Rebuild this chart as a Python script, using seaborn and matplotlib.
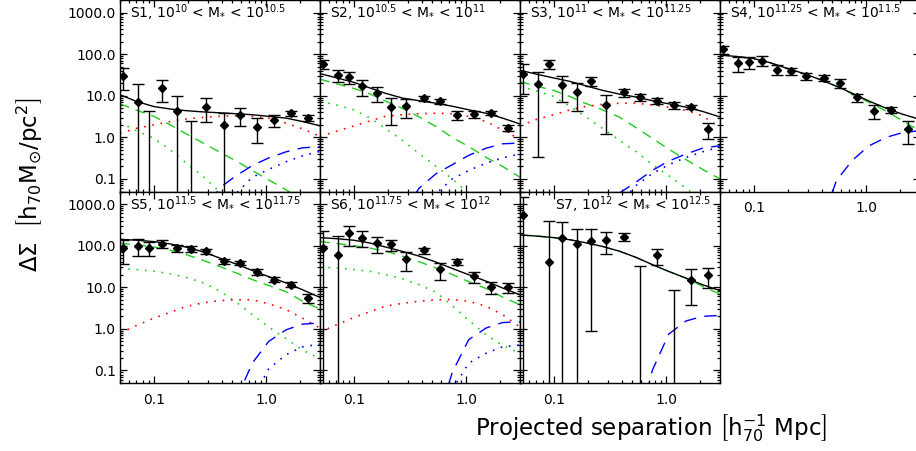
import numpy as np
import matplotlib
matplotlib.use("Agg")
import matplotlib.pyplot as plt
from matplotlib.ticker import FixedLocator, FixedFormatter, NullFormatter, LogLocator
import seaborn as sns

sns.set_style("ticks", {"xtick.direction": "in", "ytick.direction": "in"})
plt.rcParams["font.family"] = ["DejaVu Sans"]
plt.rcParams["mathtext.fontset"] = "dejavusans"
plt.rcParams["text.color"] = "black"
plt.rcParams["axes.labelcolor"] = "black"

# projected radius of each measured bin [h70^-1 Mpc]
r_bins = [0.053, 0.072, 0.091, 0.118, 0.16, 0.215, 0.29, 0.42, 0.58, 0.82, 1.17, 1.65, 2.35]
# radii at which the halo-model terms are tabulated
model_r = [0.05, 0.07, 0.1, 0.14, 0.19, 0.27, 0.38, 0.54, 0.75, 1.05, 1.5, 2.1, 3.0]

x_ticks = [0.1, 1.0]
x_tick_labels = ["0.1", "1.0"]
y_ticks = [0.1, 1.0, 10.0, 100.0, 1000.0]
y_tick_labels = ["0.1", "1.0", "10.0", "100.0", "1000.0"]

titles = [
    r"S1, 10$^{10}$ < M$_{*}$ < 10$^{10.5}$",
    r"S2, 10$^{10.5}$ < M$_{*}$ < 10$^{11}$",
    r"S3, 10$^{11}$ < M$_{*}$ < 10$^{11.25}$",
    r"S4, 10$^{11.25}$ < M$_{*}$ < 10$^{11.5}$",
    r"S5, 10$^{11.5}$ < M$_{*}$ < 10$^{11.75}$",
    r"S6, 10$^{11.75}$ < M$_{*}$ < 10$^{12}$",
    r"S7, 10$^{12}$ < M$_{*}$ < 10$^{12.5}$",
]

# measured Delta Sigma [h70 Msun / pc^2] and 1-sigma errors
s1_dsigma = [30, 6.9, -0.4, 15.3, 4.3, -0.5, 5.5, 2.0, 3.5, 1.8, 2.6, 3.8, 2.9]
s1_err = [16.6, 12.6, 4.6, 8.3, 5.7, 3.0, 3.2, 1.95, 1.65, 1.05, 0.8, 0.5, 0.48]
s2_dsigma = [58, 31.6, 27.8, 16.8, 11.6, 5.5, 5.7, 8.8, 7.3, 3.4, 3.7, 3.8, 1.7]
s2_err = [13, 10, 8.8, 6.7, 4.5, 3.5, 2.7, 1.3, 1.0, 0.85, 0.7, 0.4, 0.3]
s3_dsigma = [34, 19.1, 59, 18.4, 12.1, 23, 5.9, 12.1, 9.3, 7.6, 5.9, 5.3, 1.56]
s3_err = [23, 18.76, 15, 11.5, 7.7, 6, 4.7, 2.6, 1.8, 1.3, 1.0, 0.55, 0.65]
s4_dsigma = [130, 61.6, 65, 70, 42.6, 38.8, 29.4, 26.7, 20.2, 9.1, 4.4, 4.6, 1.56]
s4_err = [27, 25, 22, 19, 11, 7.8, 5.9, 4.2, 4.5, 2.0, 1.6, 0.85, 0.85]
s5_dsigma = [88, 100, 90, 112, 86, 84, 74, 42.6, 38.8, 23.5, 15.3, 11.6, 5.5]
s5_err = [52, 43, 34, 24, 17, 12, 11, 6, 5, 3.3, 2.2, 1.6, 1.3]
s6_dsigma = [86, 59, 199, 156, 114, 108, 47, 77, 27, 41, 18.4, 10, 10]
s6_err = [140, 112, 100, 63, 47, 32, 23, 13, 12, 5.8, 5.4, 3.3, 2.8]
s7_dsigma = [552, np.nan, 41, 150, 112, 126, 140, 163, -10, 58, -5, 15.3, 19.5]
s7_err = [950, np.nan, 340, 230, 136, 125.1, 78, 35, 43, 23.7, 13.6, 11.6, 10]

# halo-model terms on model_r: total, central 1-halo, satellite 1-halo,
# satellite host term, central 2-halo, satellite 2-halo
s1_total = [10.6, 7.3, 5.5, 4.8, 4.4, 4.1, 3.9, 3.7, 3.5, 3.2, 2.9, 2.4, 1.9]
s1_cen = [6.4, 4.5, 3.2, 2.0, 1.25, 0.75, 0.45, 0.27, 0.16, 0.095, 0.055, 0.03, 0.018]
s1_sat = [2.26, 1.45, 0.95, 0.5, 0.25, 0.12, 0.05, 0.02, np.nan, np.nan, np.nan, np.nan, np.nan]
s1_host = [1.25, 1.65, 2.0, 2.4, 2.75, 3.0, 3.2, 3.3, 3.2, 2.9, 2.2, 1.6, 1.07]
s1_cen2h = [np.nan, np.nan, np.nan, np.nan, np.nan, 0.01, 0.06, 0.12, 0.21, 0.32, 0.45, 0.56, 0.6]
s1_sat2h = [np.nan, np.nan, np.nan, np.nan, np.nan, np.nan, 0.01, 0.045, 0.11, 0.17, 0.26, 0.36, 0.46]

s2_total = [34, 27, 21, 15.3, 11.5, 8.8, 7.6, 6.6, 5.6, 4.6, 3.8, 2.9, 2.1]
s2_cen = [25, 19.5, 15, 11, 7.5, 5.0, 3.1, 1.8, 1.0, 0.6, 0.33, 0.2, 0.11]
s2_sat = [7.3, 6.0, 4.6, 2.9, 1.65, 0.85, 0.41, 0.2, 0.1, 0.045, 0.022, np.nan, np.nan]
s2_host = [1.05, 1.4, 1.88, 2.5, 3.2, 3.5, 3.7, 3.8, 3.7, 3.2, 2.4, 1.5, 0.9]
s2_cen2h = [np.nan, np.nan, np.nan, np.nan, np.nan, 0.015, 0.06, 0.135, 0.22, 0.37, 0.55, 0.7, 0.73]
s2_sat2h = [np.nan, np.nan, np.nan, np.nan, np.nan, np.nan, 0.012, 0.045, 0.1, 0.16, 0.24, 0.32, 0.40]

s3_total = [41, 33, 26.7, 22, 17.5, 13.5, 11, 9.3, 7.6, 6.4, 5.3, 4.2, 3.1]
s3_cen = [22, 17, 13.4, 9.5, 6.6, 4.6, 3.1, 1.7, 0.95, 0.52, 0.29, 0.17, 0.1]
s3_sat = [16.8, 13, 9.6, 5.5, 3.16, 1.65, 0.86, 0.45, 0.22, 0.12, 0.06, 0.03, np.nan]
s3_host = [1.88, 2.7, 3.5, 4.6, 5.5, 6.2, 6.6, 6.6, 6.0, 5.3, 4.4, 3.3, 1.7]
s3_cen2h = [np.nan, np.nan, np.nan, np.nan, np.nan, np.nan, 0.045, 0.085, 0.16, 0.27, 0.4, 0.55, 0.63]
s3_sat2h = [np.nan, np.nan, np.nan, np.nan, np.nan, np.nan, 0.025, 0.07, 0.135, 0.22, 0.33, 0.45, 0.59]

s4_total = [95, 88, 78, 62, 47, 35, 25, 17, 11.5, 7.5, 5.0, 3.6, 2.7]
s4_cen = [95, 88, 78, 62, 47, 35, 25, 17, 11, 7.0, 4.3, 2.5, 1.4]
s4_cen2h = [np.nan, np.nan, np.nan, np.nan, np.nan, np.nan, 0.005, 0.09, 0.28, 0.62, 1.0, 1.3, 1.45]

s5_total = [142, 135, 125, 110, 93, 72, 51, 36, 25.3, 18, 12.7, 8.7, 5.7]
s5_cen = [114, 105, 93, 78, 62, 45, 32, 22, 15.3, 11, 7.8, 4.6, 3.0]
s5_sat = [28.3, 26.5, 24.4, 21, 17.5, 13, 8.3, 4.4, 2.2, 1.1, 0.58, 0.31, 0.19]
s5_host = [0.79, 1.2, 1.81, 2.5, 3.4, 4.2, 4.75, 5.0, 5.0, 4.0, 2.9, 1.8, 1.05]
s5_cen2h = [np.nan, np.nan, np.nan, np.nan, np.nan, np.nan, np.nan, 0.02, 0.15, 0.5, 0.95, 1.3, 1.38]
s5_sat2h = [np.nan, np.nan, np.nan, np.nan, np.nan, np.nan, np.nan, np.nan, 0.02, 0.11, 0.24, 0.37, 0.43]

s6_total = [156, 147, 135, 115, 93, 73, 56, 40, 28.3, 20, 14, 9.6, 6.6]
s6_cen = [125, 113, 100, 87, 74, 56, 41, 29, 20.2, 13.7, 9.3, 5.8, 3.8]
s6_sat = [30.5, 29, 26.7, 24, 20.2, 16, 11.6, 7.5, 3.6, 1.6, 0.72, 0.4, 0.26]
s6_host = [0.83, 1.25, 1.88, 2.6, 3.5, 4.1, 4.6, 5.0, 5.1, 4.6, 3.5, 2.2, 1.1]
s6_cen2h = [np.nan, np.nan, np.nan, np.nan, np.nan, np.nan, np.nan, 0.005, 0.09, 0.55, 1.05, 1.42, 1.47]
s6_sat2h = [np.nan, np.nan, np.nan, np.nan, np.nan, np.nan, np.nan, np.nan, 0.035, 0.15, 0.26, 0.37, 0.41]

s7_total = [181, 170, 156, 138, 118, 96, 74, 52, 35, 24, 16.5, 11.5, 8.3]
s7_cen = [181, 170, 156, 138, 118, 96, 74, 52, 35, 24, 16.5, 10.5, 6.8]
s7_cen2h = [np.nan, np.nan, np.nan, np.nan, np.nan, np.nan, np.nan, 0.003, 0.1, 0.75, 1.55, 2.0, 2.1]

panels = [
    (s1_dsigma, s1_err, [s1_total, s1_cen, s1_sat, s1_host, s1_cen2h, s1_sat2h]),
    (s2_dsigma, s2_err, [s2_total, s2_cen, s2_sat, s2_host, s2_cen2h, s2_sat2h]),
    (s3_dsigma, s3_err, [s3_total, s3_cen, s3_sat, s3_host, s3_cen2h, s3_sat2h]),
    (s4_dsigma, s4_err, [s4_total, s4_cen, None, None, s4_cen2h, None]),
    (s5_dsigma, s5_err, [s5_total, s5_cen, s5_sat, s5_host, s5_cen2h, s5_sat2h]),
    (s6_dsigma, s6_err, [s6_total, s6_cen, s6_sat, s6_host, s6_cen2h, s6_sat2h]),
    (s7_dsigma, s7_err, [s7_total, s7_cen, None, None, s7_cen2h, None]),
]

GREEN = "#1fcc1f"
term_styles = [
    dict(color="black", lw=1.0, dashes=(None, None)),
    dict(color=GREEN, lw=1.0, dashes=(7, 5)),
    dict(color=GREEN, lw=1.2, dashes=(1, 4)),
    dict(color="#ff0000", lw=1.2, dashes=(1, 4)),
    dict(color="#0000ff", lw=1.0, dashes=(9, 6)),
    dict(color="#0000ff", lw=1.2, dashes=(1, 4)),
]

W, H = 916, 451
fig = plt.figure(figsize=(W / 100, H / 100), dpi=100)

pw, ph = 200, 191.5
x0 = 120
for i, (dsig, err, terms) in enumerate(panels):
    row, col = divmod(i, 4)
    left = (x0 + col * pw) / W
    bottom = 1 - (ph * (row + 1)) / H
    ax = fig.add_axes([left, bottom, pw / W, ph / H])
    ax.set_xscale("log")
    ax.set_yscale("log")
    ax.set_xlim(0.05, 3.0)
    ax.set_ylim(0.05, 2000)

    # model terms, drawn below the total
    order = [1, 2, 3, 4, 5, 0]
    for k in order:
        vals = terms[k]
        if vals is None:
            continue
        st = term_styles[k]
        kw = dict(color=st["color"], lw=st["lw"])
        if st["dashes"][0] is not None:
            kw["dashes"] = st["dashes"]
        sns.lineplot(x=model_r, y=vals, ax=ax, zorder=2 if k else 3, **kw)

    ax.errorbar(r_bins, dsig, yerr=err, fmt="D", color="black", ms=4.2,
                elinewidth=1.0, capsize=4.3, capthick=1.0, zorder=4)

    ax.xaxis.set_major_locator(FixedLocator(x_ticks))
    ax.xaxis.set_minor_locator(LogLocator(base=10, subs=np.arange(2, 10)))
    ax.yaxis.set_major_locator(FixedLocator(y_ticks))
    ax.yaxis.set_minor_locator(LogLocator(base=10, subs=np.arange(2, 10), numticks=20))
    ax.xaxis.set_minor_formatter(NullFormatter())
    ax.yaxis.set_minor_formatter(NullFormatter())
    if row == 1 or col == 3:
        ax.xaxis.set_major_formatter(FixedFormatter(x_tick_labels))
    else:
        ax.xaxis.set_major_formatter(NullFormatter())
    if col == 0:
        ax.yaxis.set_major_formatter(FixedFormatter(y_tick_labels))
    else:
        ax.yaxis.set_major_formatter(NullFormatter())

    ax.tick_params(which="both", direction="in", top=True, right=True,
                   width=0.9, labelsize=10, colors="black")
    ax.tick_params(which="major", length=5.0)
    ax.tick_params(which="minor", length=2.5)
    ax.tick_params(axis="x", pad=7)
    ax.tick_params(axis="y", pad=3)
    for sp in ax.spines.values():
        sp.set_linewidth(1.0)
        sp.set_color("black")
    ax.set_xlabel("")
    ax.set_ylabel("")

    if i == 6:
        ax.text(0.955, 0.932, titles[i], transform=ax.transAxes, ha="right",
                va="center", fontsize=10, color="black")
    else:
        ax.text(0.05, 0.932, titles[i], transform=ax.transAxes, ha="left",
                va="center", fontsize=10, color="black")

fig.text(30 / W, 1 - 185 / H,
         r"$\Delta\Sigma\ \ \left[\mathrm{h}_{70}\mathrm{M}_{\odot}/\mathrm{pc}^{2}\right]$",
         rotation=90, ha="center", va="center", fontsize=16.5, color="black")
fig.text(651 / W, 1 - 428 / H,
         r"Projected separation $\left[\mathrm{h}_{70}^{-1}\ \mathrm{Mpc}\right]$",
         ha="center", va="center", fontsize=16.5, color="black")

fig.savefig("out.png", dpi=100)
